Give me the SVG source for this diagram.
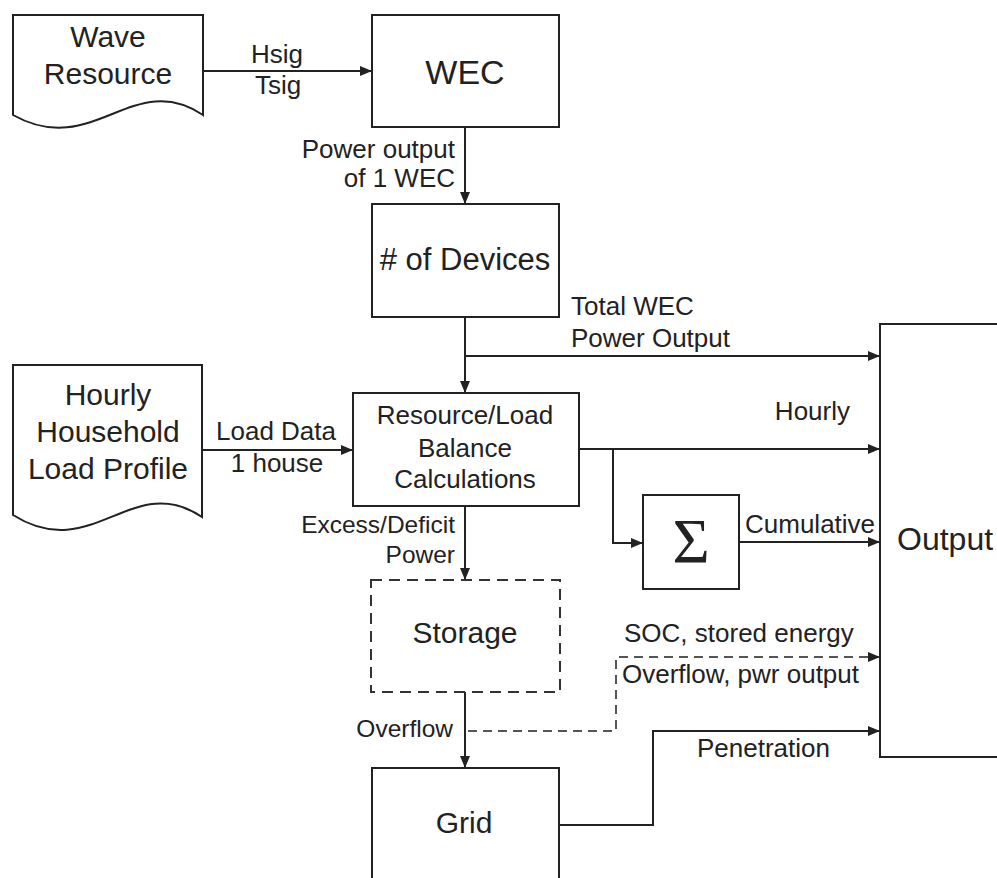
<svg xmlns="http://www.w3.org/2000/svg" width="997" height="878" viewBox="0 0 997 878">
<defs>
<marker id="arr" viewBox="0 0 12 10" refX="12" refY="5" markerWidth="12" markerHeight="10" markerUnits="userSpaceOnUse" orient="auto">
<path d="M0,0 L12,5 L0,10 Z" fill="#222"/>
</marker>
<style>
.box{fill:#fff;stroke:#222;stroke-width:2}
.dbox{fill:#fff;stroke:#333;stroke-width:2;stroke-dasharray:11 7}
.c{fill:none;stroke:#222;stroke-width:2}
.dc{fill:none;stroke:#555;stroke-width:2;stroke-dasharray:9 6}
text{font-family:"Liberation Sans",Arial,sans-serif;fill:#222}
.big{font-size:30px;text-anchor:middle}
.lbl{font-size:26px}
.sm{font-size:24.5px}
.m{text-anchor:middle}
.e{text-anchor:end}
</style>
</defs>
<rect width="997" height="878" fill="#fff"/>

<g id="connectors">
<path class="c" d="M203,71 H372" marker-end="url(#arr)"/>
<path class="c" d="M465,127 V204" marker-end="url(#arr)"/>
<path class="c" d="M465,317 V393" marker-end="url(#arr)"/>
<path class="c" d="M465,356 H880" marker-end="url(#arr)"/>
<path class="c" d="M202,450 H353" marker-end="url(#arr)"/>
<path class="c" d="M579,449 H880" marker-end="url(#arr)"/>
<path class="c" d="M613,449 V543 H643" marker-end="url(#arr)"/>
<path class="c" d="M739,542 H880" marker-end="url(#arr)"/>
<path class="c" d="M465,506 V580" marker-end="url(#arr)"/>
<path class="c" d="M465,692 V768" marker-end="url(#arr)"/>
<path class="dc" d="M468,731 H616 V657 H880" marker-end="url(#arr)"/>
<path class="c" d="M559,825 H653 V731 H880" marker-end="url(#arr)"/>
</g>

<g id="labels">
<text class="lbl m" x="277" y="63">Hsig</text>
<text class="lbl m" x="278" y="94">Tsig</text>
<text class="lbl e" x="455" y="158">Power output</text>
<text class="lbl e" x="455" y="187">of 1 WEC</text>
<text class="lbl" x="571" y="315">Total WEC</text>
<text class="lbl" x="571" y="347">Power Output</text>
<text class="lbl m" x="276" y="440">Load Data</text>
<text class="lbl m" x="277" y="472">1 house</text>
<text class="lbl e" x="850" y="420">Hourly</text>
<text class="lbl" x="745" y="533">Cumulative</text>
<text class="sm e" x="455" y="533">Excess/Deficit</text>
<text class="sm e" x="455" y="563">Power</text>
<text class="lbl" x="624" y="642">SOC, stored energy</text>
<text class="lbl" x="622" y="683">Overflow, pwr output</text>
<text class="sm e" x="453" y="737">Overflow</text>
<text class="lbl" x="697" y="757">Penetration</text>
</g>

<g id="wave-resource">
<path class="box" d="M13,15 H203 V115 C133,68 93,160 13,115 Z"/>
<text class="big" x="108" y="47">Wave</text>
<text class="big" x="108" y="84">Resource</text>
</g>

<g id="wec">
<rect class="box" x="372" y="15" width="187" height="112"/>
<text x="465" y="84" font-size="34" text-anchor="middle">WEC</text>
</g>

<g id="devices">
<rect class="box" x="372" y="204" width="187" height="113"/>
<text x="465" y="270" font-size="31" text-anchor="middle"># of Devices</text>
</g>

<g id="load-profile">
<path class="box" d="M13,365 H202 V517 C132,470 92,565 13,515 Z"/>
<text class="big" x="108" y="405">Hourly</text>
<text class="big" x="108" y="442">Household</text>
<text class="big" x="108" y="479">Load Profile</text>
</g>

<g id="balance">
<rect class="box" x="353" y="393" width="226" height="113"/>
<text class="lbl m" x="465" y="424">Resource/Load</text>
<text class="lbl m" x="465" y="457">Balance</text>
<text class="lbl m" x="465" y="488">Calculations</text>
</g>

<g id="sum">
<rect class="box" x="643" y="495" width="96" height="94"/>
<text x="691" y="563" font-size="64" text-anchor="middle" style="font-family:'Liberation Serif','Times New Roman',serif">Σ</text>
</g>

<g id="storage">
<rect class="dbox" x="371" y="580" width="189" height="112"/>
<text class="big" x="465" y="643">Storage</text>
</g>

<g id="grid">
<rect class="box" x="372" y="768" width="187" height="130"/>
<text class="big" x="464" y="833">Grid</text>
</g>

<g id="output">
<rect class="box" x="880" y="324" width="140" height="433"/>
<text x="897" y="550" font-size="32">Output</text>
</g>
</svg>
